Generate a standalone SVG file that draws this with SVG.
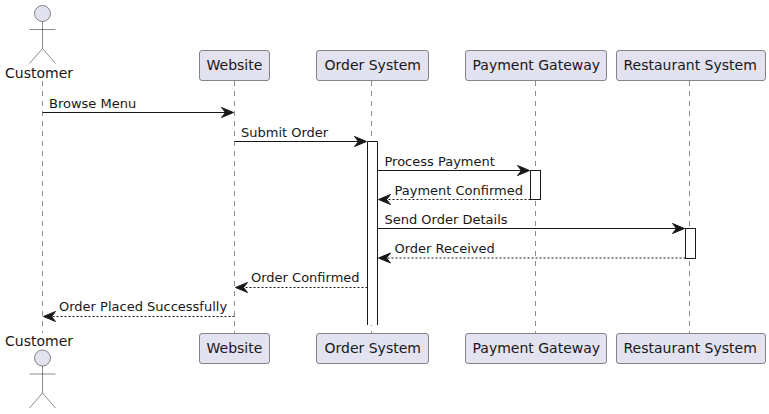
<svg xmlns="http://www.w3.org/2000/svg" width="769" height="414" viewBox="0 0 769 414">
<defs>
<path id="head" d="M0,0 L-12,-5 L-8,0 L-12,5 Z" fill="#181818" stroke="#181818" stroke-width="1"/>
<g id="man" fill="none" stroke="#181818" stroke-width="0.5">
<circle cx="0" cy="-8" r="8" fill="#E2E2F0"/>
<path d="M0,0 V27 M-13,8 H13 M0,27 L-13,42 M0,27 L13,42"/>
</g>
</defs>
<style>
text{font-family:"DejaVu Sans",sans-serif;font-size:14px;fill:#181818}
.m{font-size:13px}
.box{fill:#E2E2F0;stroke:#181818;stroke-width:0.5}
.life{stroke:#181818;stroke-width:0.5;stroke-dasharray:5 5;fill:none}
.act{fill:#fff;stroke:#181818;stroke-width:1}
.s{stroke:#181818;stroke-width:1;fill:none}
.d{stroke:#181818;stroke-width:1;stroke-dasharray:2 2;fill:none}
</style>
<rect width="769" height="414" fill="#fff"/>
<g id="connectors">
<line class="life" x1="42.5" y1="81" x2="42.5" y2="333"/>
<line class="life" x1="234.5" y1="81" x2="234.5" y2="333"/>
<line class="life" x1="371.5" y1="81" x2="371.5" y2="333"/>
<line class="life" x1="535.5" y1="81" x2="535.5" y2="333"/>
<line class="life" x1="689.5" y1="81" x2="689.5" y2="333"/>
<path class="act" d="M367.5,325 V141.5 H377.5 V325" />
<rect class="act" x="530.5" y="170.5" width="10" height="29"/>
<rect class="act" x="685.5" y="228.5" width="10" height="30"/>
<line class="s" x1="42.5" y1="112.5" x2="228" y2="112.5"/><use href="#head" x="233.5" y="112.5"/>
<line class="s" x1="234.5" y1="141.5" x2="361" y2="141.5"/><use href="#head" x="366.5" y="141.5"/>
<line class="s" x1="377.5" y1="170.5" x2="524" y2="170.5"/><use href="#head" x="529.5" y="170.5"/>
<line class="d" x1="530.5" y1="199.5" x2="384" y2="199.5"/><use href="#head" transform="translate(378.5,199.5) scale(-1,1)"/>
<line class="s" x1="377.5" y1="228.5" x2="679" y2="228.5"/><use href="#head" x="684.5" y="228.5"/>
<line class="d" x1="685.5" y1="258" x2="384" y2="258"/><use href="#head" transform="translate(378.5,258) scale(-1,1)"/>
<line class="d" x1="367.5" y1="287.5" x2="241" y2="287.5"/><use href="#head" transform="translate(235.5,287.5) scale(-1,1)"/>
<line class="d" x1="234.5" y1="316.5" x2="49" y2="316.5"/><use href="#head" transform="translate(43.5,316.5) scale(-1,1)"/>
</g>
<g id="labels">
<text class="m" x="49" y="107.5">Browse Menu</text>
<text class="m" x="241" y="136.5">Submit Order</text>
<text class="m" x="384.5" y="165.5">Process Payment</text>
<text class="m" x="394.5" y="194.5">Payment Confirmed</text>
<text class="m" x="384.5" y="223.5">Send Order Details</text>
<text class="m" x="394.5" y="253">Order Received</text>
<text class="m" x="251" y="282">Order Confirmed</text>
<text class="m" x="59" y="311">Order Placed Successfully</text>
</g>
<g id="customer-top"><use href="#man" x="42.5" y="21.5"/><text x="5" y="78">Customer</text></g>
<g id="website-top"><rect class="box" x="199.5" y="50.5" width="70" height="30" rx="2.5"/><text x="206.5" y="70">Website</text></g>
<g id="order-top"><rect class="box" x="316.5" y="50.5" width="112" height="30" rx="2.5"/><text x="324.5" y="70">Order System</text></g>
<g id="payment-top"><rect class="box" x="465.5" y="50.5" width="141" height="30" rx="2.5"/><text x="472.5" y="70">Payment Gateway</text></g>
<g id="restaurant-top"><rect class="box" x="616.5" y="50.5" width="149" height="30" rx="2.5"/><text x="623.5" y="70">Restaurant System</text></g>
<g id="customer-bottom"><text x="5" y="346">Customer</text><use href="#man" x="42.5" y="366"/></g>
<g id="website-bottom"><rect class="box" x="199.5" y="333.5" width="70" height="30" rx="2.5"/><text x="206.5" y="353">Website</text></g>
<g id="order-bottom"><rect class="box" x="316.5" y="333.5" width="112" height="30" rx="2.5"/><text x="324.5" y="353">Order System</text></g>
<g id="payment-bottom"><rect class="box" x="465.5" y="333.5" width="141" height="30" rx="2.5"/><text x="472.5" y="353">Payment Gateway</text></g>
<g id="restaurant-bottom"><rect class="box" x="616.5" y="333.5" width="149" height="30" rx="2.5"/><text x="623.5" y="353">Restaurant System</text></g>
</svg>
